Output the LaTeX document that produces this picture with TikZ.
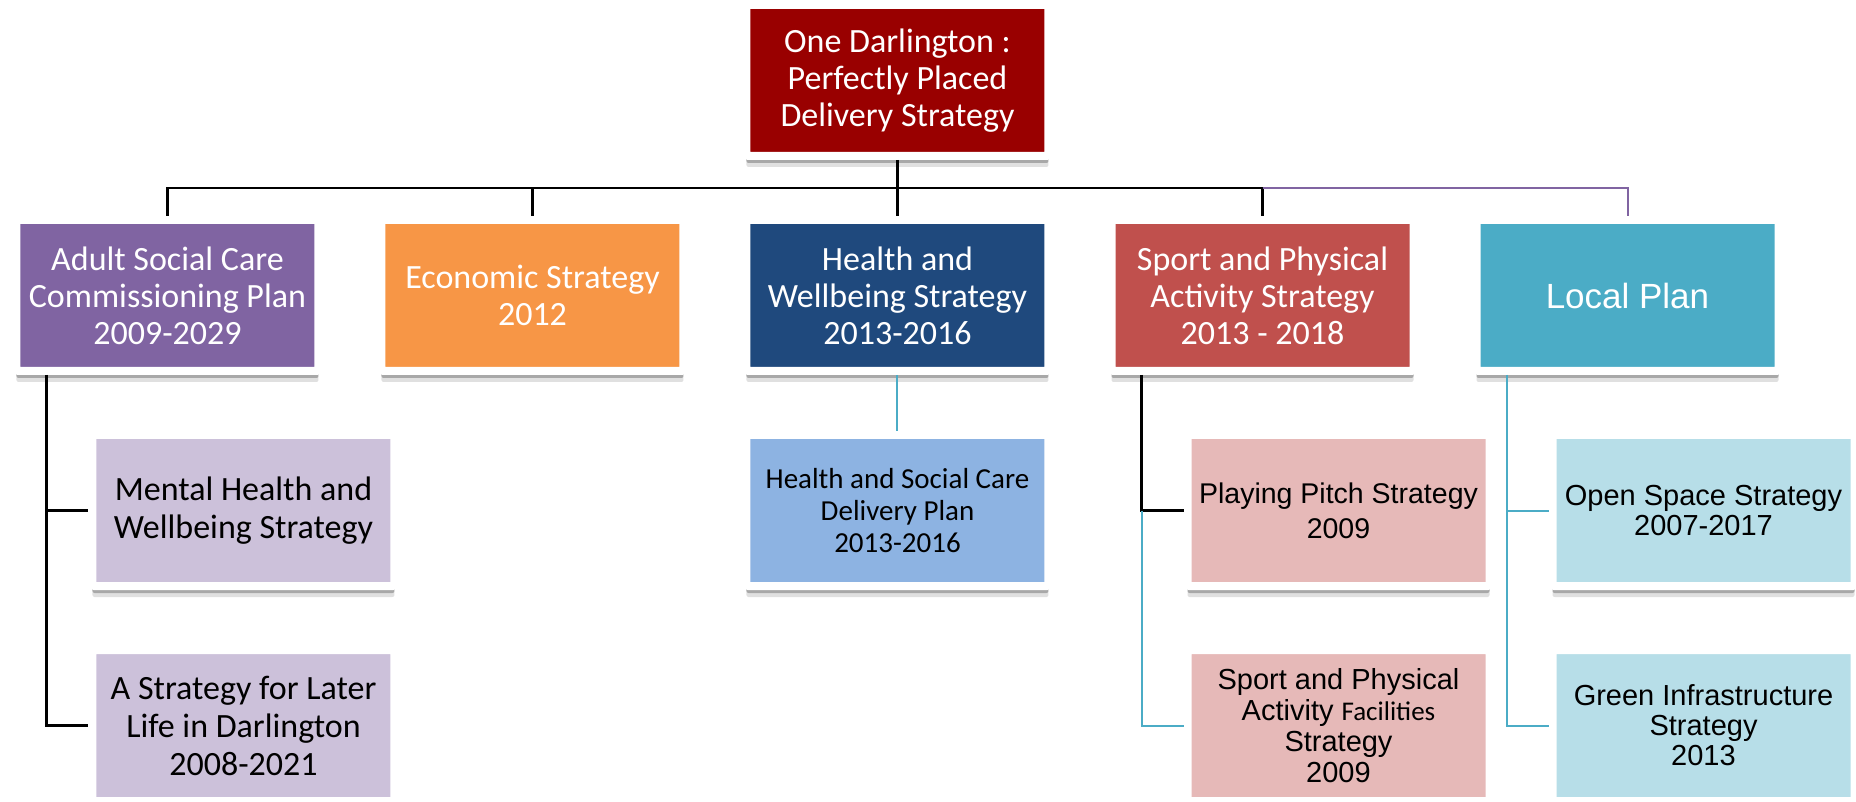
\documentclass[tikz,border=0pt]{standalone}
\usepackage{fontspec}
\setmainfont{Carlito}
\newfontfamily\arialfont{Liberation Sans}
\usetikzlibrary{positioning, shadows, calc}
\definecolor{topred}{RGB}{153, 0, 0}
\definecolor{adultpurple}{RGB}{128, 100, 162}
\definecolor{econorange}{RGB}{247, 150, 70}
\definecolor{healthblue}{RGB}{31, 73, 125}
\definecolor{sportred}{RGB}{192, 80, 77}
\definecolor{localteal}{RGB}{75, 172, 198}
\definecolor{adultlight}{RGB}{204, 193, 218}
\definecolor{healthlight}{RGB}{141, 179, 226}
\definecolor{sportlight}{RGB}{230, 185, 184}
\definecolor{locallight}{RGB}{183, 222, 232}

\begin{document}
\begin{tikzpicture}[
    node distance=56pt and 55pt,
    box/.style={rectangle, rounded corners=2pt, draw=white, line width=8pt, minimum width=302pt, minimum height=151pt, inner sep=0pt, align=center,
        drop shadow={shadow xshift=0pt, shadow yshift=-11pt, opacity=0.12, fill=black},
        drop shadow={shadow xshift=0pt, shadow yshift=-7pt, opacity=0.25, fill=black}},
    main/.style={box, text=white, font=\fontsize{34}{37}\selectfont},
    sub/.style={box, text=black, font=\fontsize{34}{38}\selectfont},
    link/.style={line width=2.5pt, black},
    tealink/.style={line width=2pt, localteal},
    purplelink/.style={line width=2pt, adultpurple}
]
\useasboundingbox (-897.5pt,80.5pt) rectangle (958.5pt,-721.5pt);

% Top
\node[main, fill=topred] (top) at (0,0) {One Darlington :\\Perfectly Placed\\Delivery Strategy};

% First level
\node[main, fill=healthblue, below=of top] (health) {Health and\\Wellbeing Strategy\\2013-2016};
\node[main, fill=econorange, left=of health] (econ) {Economic Strategy\\2012};
\node[main, fill=adultpurple, left=of econ] (adult) {Adult Social Care\\Commissioning Plan\\2009-2029};
\node[main, fill=sportred, right=of health] (sport) {Sport and Physical\\Activity Strategy\\2013 - 2018};
\node[main, fill=localteal, right=of sport, font=\arialfont\fontsize{35}{40}\selectfont] (local) {Local Plan};

% Second level
\node[sub, fill=adultlight, below=of adult, xshift=76pt] (mental) {Mental Health and\\Wellbeing Strategy};
\node[sub, fill=adultlight, below=of mental] (later) {A Strategy for Later\\Life in Darlington\\2008-2021};
\node[sub, fill=healthlight, below=of health, font=\fontsize{29}{32}\selectfont] (hsc) {Health and Social Care\\Delivery Plan\\2013-2016};
\node[sub, fill=sportlight, below=of sport, xshift=76pt, font=\arialfont\fontsize{28.5}{35}\selectfont] (pitch) {Playing Pitch Strategy\\2009};
\node[sub, fill=sportlight, below=of pitch, font=\arialfont\fontsize{29}{31}\selectfont] (facil) {Sport and Physical\\Activity {\normalfont\fontsize{27}{31}\selectfont Facilities}\\Strategy\\2009};
\node[sub, fill=locallight, below=of local, xshift=76pt, font=\arialfont\fontsize{29}{30}\selectfont] (open) {Open Space Strategy\\2007-2017};
\node[sub, fill=locallight, below=of open, font=\arialfont\fontsize{29}{30}\selectfont] (green) {Green Infrastructure\\Strategy\\2013};

% Lines from the top
\coordinate (bar) at ($(top.south)+(0,-28pt)$);
\draw[link] (top) -- (health);
\draw[link] (adult) |- (bar) -| (sport);
\draw[link] (econ) -- (econ |- bar);
\draw[purplelink] (sport |- bar) -| (local);

% Lines to the second level
\coordinate (adulttrunk) at ([xshift=34pt]adult.south west);
\coordinate (sporttrunk) at ([xshift=34pt]sport.south west);
\coordinate (localtrunk) at ([xshift=34pt]local.south west);
\draw[link] (adulttrunk) |- (mental);
\draw[link] (adulttrunk) |- (later);
\draw[tealink] (health) -- (hsc);
\draw[link] (sporttrunk) |- (pitch);
\draw[tealink] (sporttrunk |- pitch) |- (facil);
\draw[tealink] (localtrunk) |- (open);
\draw[tealink] (localtrunk) |- (green);

\end{tikzpicture}
\end{document}
